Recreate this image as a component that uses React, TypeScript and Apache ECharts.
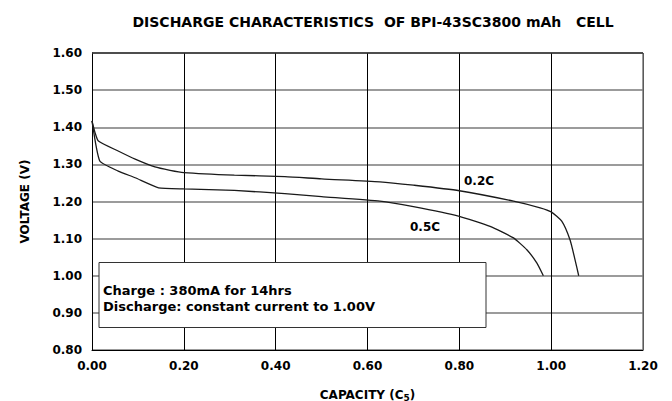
import React, { useEffect, useRef } from "react";
import * as echarts from "echarts";

const xTicks = [0, 0.2, 0.4, 0.6, 0.8, 1.0, 1.2];
const yTicks = [0.8, 0.9, 1.0, 1.1, 1.2, 1.3, 1.4, 1.5, 1.6];

const curve02C: [number, number][] = [
  [0, 1.417], [0.0065, 1.386], [0.014, 1.363], [0.057, 1.336], [0.094, 1.314],
  [0.137, 1.293], [0.17, 1.284], [0.2, 1.278], [0.31, 1.271], [0.42, 1.267], [0.5, 1.261],
  [0.627, 1.253], [0.7, 1.244], [0.8, 1.229], [0.918, 1.201], [0.976, 1.183],
  [1.0, 1.172], [1.023, 1.147], [1.041, 1.097], [1.052, 1.043], [1.06, 1.0],
];

const curve05C: [number, number][] = [
  [0, 1.417], [0.017, 1.309], [0.057, 1.282], [0.094, 1.264], [0.145, 1.237],
  [0.2, 1.234], [0.31, 1.23], [0.42, 1.221], [0.5, 1.213], [0.627, 1.201],
  [0.7, 1.186], [0.8, 1.16], [0.867, 1.133], [0.918, 1.102], [0.947, 1.07],
  [0.969, 1.034], [0.983, 1.0],
];

const FONT = "DejaVu Sans, sans-serif";

export default function App() {
  const ref = useRef<HTMLDivElement>(null);
  useEffect(() => {
    document.body.style.margin = "0";
    const chart = echarts.init(ref.current!, null, { renderer: "svg" });
    chart.setOption({
      animation: false,
      backgroundColor: "#ffffff",
      title: {
        text: "DISCHARGE CHARACTERISTICS  OF BPI-43SC3800 mAh   CELL",
        left: 368,
        top: 10,
        textAlign: "center",
        textStyle: { fontFamily: FONT, fontWeight: "bold", fontSize: 14, color: "#000" },
      },
      grid: { left: 92, right: 29, top: 53, bottom: 51, containLabel: false, outerBoundsMode: "none" },
      xAxis: {
        type: "value",
        min: 0,
        max: 1.2,
        interval: 0.2,
        name: "CAPACITY (C{s|5})",
        nameLocation: "middle",
        nameGap: 38,
        nameTextStyle: {
          fontFamily: FONT, fontWeight: "bold", fontSize: 12, color: "#000",
          rich: { s: { fontFamily: FONT, fontWeight: "bold", fontSize: 9, color: "#000", verticalAlign: "bottom", padding: [5, 0, 0, 0] } },
        },
        axisLine: { show: true, onZero: false, lineStyle: { color: "#000", width: 1 } },
        axisTick: { show: false },
        axisLabel: {
          margin: 10, fontFamily: FONT, fontWeight: "bold", fontSize: 12, color: "#000",
          formatter: (v: number) => v.toFixed(2),
        },
        splitLine: { show: true, lineStyle: { color: "#000", width: 1 } },
      },
      yAxis: {
        type: "value",
        min: 0.8,
        max: 1.6,
        interval: 0.1,
        name: "VOLTAGE (V)",
        nameLocation: "middle",
        nameRotate: 90,
        nameGap: 61,
        nameTextStyle: { fontFamily: FONT, fontWeight: "bold", fontSize: 12, color: "#000" },
        axisLine: { show: true, onZero: false, lineStyle: { color: "#000", width: 1 } },
        axisTick: { show: false },
        axisLabel: {
          margin: 10, fontFamily: FONT, fontWeight: "bold", fontSize: 12, color: "#000",
          formatter: (v: number) => v.toFixed(2),
        },
        splitLine: { show: true, lineStyle: { color: "#7a7a7a", width: 1.5 } },
      },
      series: [
        {
          name: "0.2C",
          type: "line",
          data: curve02C,
          showSymbol: false,
          smooth: 0.2,
          lineStyle: { color: "#1a1a1a", width: 1.3 },
          z: 3,
        },
        {
          name: "0.5C",
          type: "line",
          data: curve05C,
          showSymbol: false,
          smooth: 0.15,
          lineStyle: { color: "#1a1a1a", width: 1.3 },
          z: 3,
        },
      ],
      graphic: [
        {
          type: "rect",
          shape: { x: 99, y: 262.5, width: 387, height: 65 },
          style: { fill: "#fff", stroke: "#333", lineWidth: 1 },
          z: 10,
        },
        {
          type: "text",
          x: 103, y: 290,
          style: {
            text: "Charge : 380mA for 14hrs",
            fontFamily: FONT, fontWeight: "bold", fontSize: 13, fill: "#000",
            verticalAlign: "middle",
          },
          z: 11,
        },
        {
          type: "text",
          x: 103, y: 306.5,
          style: {
            text: "Discharge: constant current to 1.00V",
            fontFamily: FONT, fontWeight: "bold", fontSize: 13, fill: "#000",
            verticalAlign: "middle",
          },
          z: 11,
        },
        {
          type: "text",
          x: 479, y: 181,
          style: {
            text: "0.2C", fontFamily: FONT, fontWeight: "bold", fontSize: 12, fill: "#000",
            align: "center", verticalAlign: "middle",
          },
          z: 11,
        },
        {
          type: "text",
          x: 425, y: 227,
          style: {
            text: "0.5C", fontFamily: FONT, fontWeight: "bold", fontSize: 12, fill: "#000",
            align: "center", verticalAlign: "middle",
          },
          z: 11,
        },
        {
          type: "line",
          shape: { x1: 643, y1: 53, x2: 643, y2: 350 },
          style: { stroke: "#7a7a7a", lineWidth: 1.5 },
          z: 5,
        },
        {
          type: "line",
          shape: { x1: 92, y1: 53, x2: 643, y2: 53 },
          style: { stroke: "#333", lineWidth: 1.5 },
          z: 5,
        },
      ],
    });
    return () => chart.dispose();
  }, []);
  return <div ref={ref} style={{ width: 672, height: 401 }} />;
}
